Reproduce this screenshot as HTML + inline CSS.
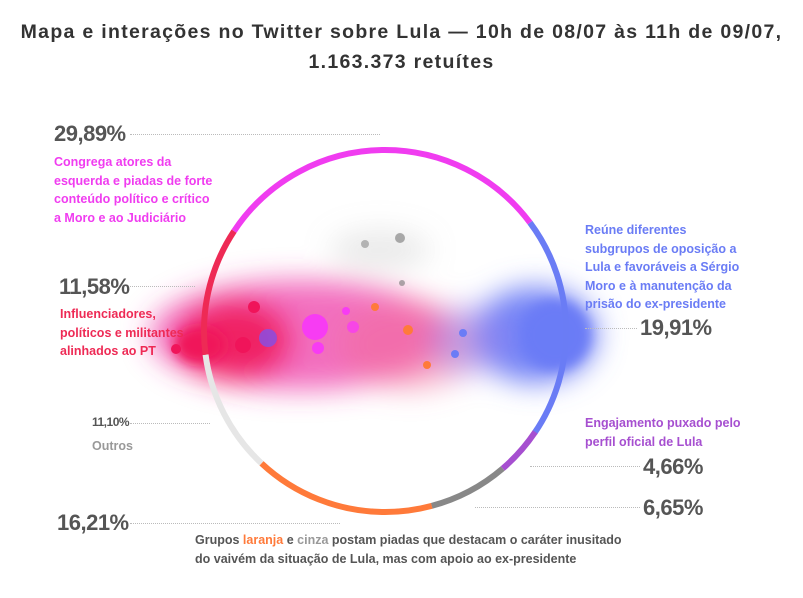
<!DOCTYPE html>
<html><head><meta charset="utf-8"><style>
body{margin:0;width:803px;height:598px;background:#fff;font-family:"Liberation Sans",sans-serif;position:relative;overflow:hidden}
.t{position:absolute;white-space:nowrap;font-weight:bold}
.big{font-size:22px;color:#555;letter-spacing:-0.5px}
.d{position:absolute;border-top:1.5px dotted #bbb;height:0}
.p{font-size:12.5px;line-height:18.6px}
</style></head><body>
<div class="t" style="left:0;width:803px;text-align:center;top:17px;font-size:19.5px;color:#333;line-height:30px;letter-spacing:1.3px">Mapa e interações no Twitter sobre Lula — 10h de 08/07 às 11h de 09/07,<br>1.163.373 retuítes</div>

<svg width="803" height="598" style="position:absolute;left:0;top:0">
<defs>
<filter id="b" x="-50%" y="-50%" width="200%" height="200%"><feGaussianBlur stdDeviation="14"/></filter>
<filter id="b2" x="-50%" y="-50%" width="200%" height="200%"><feGaussianBlur stdDeviation="6"/></filter>
</defs>
<g filter="url(#b)">
<ellipse cx="300" cy="335" rx="150" ry="55" fill="#ee3ca8" opacity=".75"/>
<ellipse cx="235" cy="340" rx="55" ry="40" fill="#f01d5a" opacity=".9"/>
<ellipse cx="410" cy="345" rx="70" ry="45" fill="#f2709a" opacity=".5"/>
<ellipse cx="535" cy="335" rx="62" ry="48" fill="#6b7cf6" opacity=".95"/>
<ellipse cx="470" cy="340" rx="40" ry="35" fill="#9a88f0" opacity=".5"/>
<ellipse cx="380" cy="250" rx="50" ry="20" fill="#aaa" opacity=".25"/>
</g>
<g filter="url(#b2)">
<ellipse cx="200" cy="345" rx="25" ry="18" fill="#f0145a"/>
<ellipse cx="555" cy="335" rx="35" ry="35" fill="#6b7cf6"/>
</g>
<g>
<circle cx="315" cy="327" r="13" fill="#f73cf3"/>
<circle cx="318" cy="348" r="6" fill="#f73cf3"/>
<circle cx="268" cy="338" r="9" fill="#8a4ee0" opacity=".85"/>
<circle cx="254" cy="307" r="6" fill="#f0145a"/>
<circle cx="243" cy="345" r="8" fill="#f0145a"/>
<circle cx="176" cy="349" r="5" fill="#f0145a"/>
<circle cx="353" cy="327" r="6" fill="#f73cf3" opacity=".8"/>
<circle cx="346" cy="311" r="4" fill="#f73cf3"/>
<circle cx="408" cy="330" r="5" fill="#ff7a3a"/>
<circle cx="375" cy="307" r="4" fill="#ff7a3a"/>
<circle cx="427" cy="365" r="4" fill="#ff7a3a"/>
<circle cx="463" cy="333" r="4" fill="#6b7cf6"/>
<circle cx="455" cy="354" r="4" fill="#6b7cf6"/>
<circle cx="400" cy="238" r="5" fill="#777" opacity=".6"/>
<circle cx="365" cy="244" r="4" fill="#777" opacity=".5"/>
<circle cx="402" cy="283" r="3" fill="#777" opacity=".6"/>
</g>
<g fill="none" stroke-width="6">
<circle cx="385" cy="331" r="181" stroke="#f03cf0" stroke-dasharray="346.6 2000" stroke-dashoffset="-674.1"/>
<circle cx="385" cy="331" r="181" stroke="#6a7cf5" stroke-dasharray="118 2000" stroke-dashoffset="-1020.7"/>
<circle cx="385" cy="331" r="181" stroke="#6a7cf5" stroke-dasharray="108 2000" stroke-dashoffset="0"/>
<circle cx="385" cy="331" r="181" stroke="#a64fd0" stroke-dasharray="49 2000" stroke-dashoffset="-107.1"/>
<circle cx="385" cy="331" r="181" stroke="#888" stroke-dasharray="80.9 2000" stroke-dashoffset="-156.1"/>
<circle cx="385" cy="331" r="181" stroke="#ff7a3a" stroke-dasharray="183.2 2000" stroke-dashoffset="-236.9"/>
<circle cx="385" cy="331" r="181" stroke="#e6e6e6" stroke-dasharray="124.5 2000" stroke-dashoffset="-420.1"/>
<circle cx="385" cy="331" r="181" stroke="#ee2a55" stroke-dasharray="129.5 2000" stroke-dashoffset="-544.6"/>
</g>
</svg>

<div class="t big" style="left:54px;top:121px">29,89%</div>
<div class="d" style="left:130px;width:250px;top:134px"></div>
<div class="t p" style="left:54px;top:153px;color:#f03cf0">Congrega atores da<br>esquerda e piadas de forte<br>conteúdo político e crítico<br>a Moro e ao Judiciário</div>

<div class="t big" style="left:59px;top:274px">11,58%</div>
<div class="d" style="left:130px;width:65px;top:286px"></div>
<div class="t p" style="left:60px;top:305px;color:#ee2a55">Influenciadores,<br>políticos e militantes<br>alinhados ao PT</div>

<div class="t" style="left:92px;top:415px;font-size:12px;color:#555;letter-spacing:-0.5px">11,10%</div>
<div class="d" style="left:130px;width:80px;top:423px"></div>
<div class="t" style="left:92px;top:439px;font-size:12.5px;color:#999">Outros</div>

<div class="t big" style="left:57px;top:510px">16,21%</div>
<div class="d" style="left:130px;width:210px;top:523px"></div>
<div class="t p" style="left:195px;top:531px;color:#555">Grupos <span style="color:#ff7a3a">laranja</span> e <span style="color:#999">cinza</span> postam piadas que destacam o caráter inusitado<br>do vaivém da situação de Lula, mas com apoio ao ex-presidente</div>

<div class="t p" style="left:585px;top:221px;color:#6a7cf5">Reúne diferentes<br>subgrupos de oposição a<br>Lula e favoráveis a Sérgio<br>Moro e à manutenção da<br>prisão do ex-presidente</div>
<div class="d" style="left:585px;width:52px;top:328px"></div>
<div class="t big" style="left:640px;top:315px">19,91%</div>

<div class="t p" style="left:585px;top:414px;color:#a64fd0">Engajamento puxado pelo<br>perfil oficial de Lula</div>
<div class="d" style="left:530px;width:110px;top:466px"></div>
<div class="t big" style="left:643px;top:454px">4,66%</div>
<div class="d" style="left:475px;width:165px;top:507px"></div>
<div class="t big" style="left:643px;top:495px">6,65%</div>
</body></html>
